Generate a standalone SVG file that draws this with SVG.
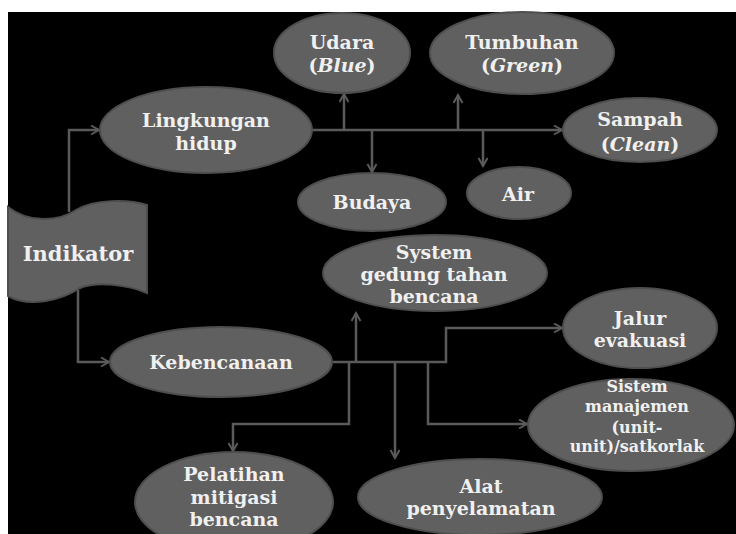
<svg xmlns="http://www.w3.org/2000/svg" width="736" height="534" viewBox="0 0 736 534">
<defs>
<style>
.n{fill:#606060;stroke:#4e4e4e;stroke-width:2}
.t{font-family:"DejaVu Serif","Liberation Serif",serif;font-weight:bold;font-size:19px;fill:#f0f0f0;text-anchor:middle}
.s{font-size:16px}
.c{fill:none;stroke:#5a5a5a;stroke-width:2.5}
</style>
<marker id="a" markerUnits="userSpaceOnUse" markerWidth="12" markerHeight="12" refX="9" refY="5" orient="auto">
<path d="M1,0.5 L9,5 L1,9.5" fill="none" stroke="#5a5a5a" stroke-width="2"/>
</marker>
</defs>
<rect x="0" y="0" width="736" height="534" fill="#ffffff"/>
<rect x="8" y="12" width="728" height="522" fill="#000000"/>
<g id="connectors">
<path class="c" d="M69,212 V130 H99" marker-end="url(#a)"/>
<path class="c" d="M78,290 V362 H109" marker-end="url(#a)"/>
<path class="c" d="M312,130 H562" marker-end="url(#a)"/>
<path class="c" d="M344,130 V94" marker-end="url(#a)"/>
<path class="c" d="M458,130 V95" marker-end="url(#a)"/>
<path class="c" d="M372,130 V172" marker-end="url(#a)"/>
<path class="c" d="M483,130 V166" marker-end="url(#a)"/>
<path class="c" d="M333,362 H446 V328 H562" marker-end="url(#a)"/>
<path class="c" d="M356,362 V313" marker-end="url(#a)"/>
<path class="c" d="M349,362 V424 H233 V451" marker-end="url(#a)"/>
<path class="c" d="M395,362 V458" marker-end="url(#a)"/>
<path class="c" d="M428,362 V424 H527" marker-end="url(#a)"/>
</g>
<g id="indikator">
<path class="n" d="M8,207 C28,223 58,222 76,210 C94,199 128,199 147,205 L147,293 C128,285 98,281 80,288 C62,300 30,308 8,296 Z"/>
<text class="t" x="78" y="261" style="font-size:21px">Indikator</text>
</g>
<g id="lingkungan">
<ellipse class="n" cx="206" cy="130" rx="106" ry="43"/>
<text class="t" x="206" y="127">Lingkungan</text>
<text class="t" x="206" y="150">hidup</text>
</g>
<g id="udara">
<ellipse class="n" cx="342" cy="53" rx="68" ry="40"/>
<text class="t" x="342" y="49">Udara</text>
<text class="t" x="342" y="72">(<tspan font-style="italic">Blue</tspan>)</text>
</g>
<g id="tumbuhan">
<ellipse class="n" cx="522" cy="53" rx="92" ry="41"/>
<text class="t" x="522" y="49">Tumbuhan</text>
<text class="t" x="522" y="72">(<tspan font-style="italic">Green</tspan>)</text>
</g>
<g id="sampah">
<ellipse class="n" cx="640" cy="130" rx="77" ry="32"/>
<text class="t" x="640" y="126">Sampah</text>
<text class="t" x="640" y="151">(<tspan font-style="italic">Clean</tspan>)</text>
</g>
<g id="budaya">
<ellipse class="n" cx="372" cy="202" rx="74" ry="29"/>
<text class="t" x="372" y="209">Budaya</text>
</g>
<g id="air">
<ellipse class="n" cx="519" cy="193" rx="52" ry="26"/>
<text class="t" x="518" y="201">Air</text>
</g>
<g id="system">
<ellipse class="n" cx="435" cy="273" rx="112" ry="38"/>
<text class="t" x="434" y="259">System</text>
<text class="t" x="434" y="281">gedung tahan</text>
<text class="t" x="434" y="303">bencana</text>
</g>
<g id="kebencanaan">
<ellipse class="n" cx="221" cy="362" rx="111" ry="35"/>
<text class="t" x="221" y="369">Kebencanaan</text>
</g>
<g id="jalur">
<ellipse class="n" cx="640" cy="328" rx="77" ry="40"/>
<text class="t" x="640" y="325">Jalur</text>
<text class="t" x="640" y="347">evakuasi</text>
</g>
<g id="sistem">
<ellipse class="n" cx="631" cy="425" rx="103" ry="46"/>
<text class="t s" x="637" y="392">Sistem</text>
<text class="t s" x="637" y="412">manajemen</text>
<text class="t s" x="637" y="433">(unit-</text>
<text class="t s" x="637" y="452">unit)/satkorlak</text>
</g>
<g id="alat">
<ellipse class="n" cx="480" cy="497" rx="122" ry="38"/>
<text class="t" x="481" y="493">Alat</text>
<text class="t" x="481" y="515">penyelamatan</text>
</g>
<g id="pelatihan">
<ellipse class="n" cx="234" cy="502" rx="99" ry="50"/>
<text class="t" x="234" y="481">Pelatihan</text>
<text class="t" x="234" y="504">mitigasi</text>
<text class="t" x="234" y="526">bencana</text>
</g>
</svg>
